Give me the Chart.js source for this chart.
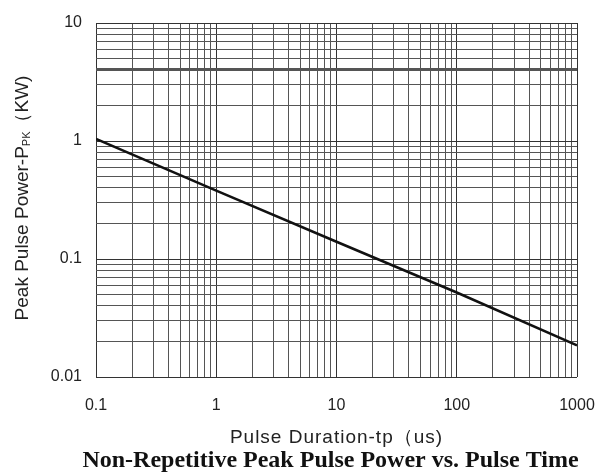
<!DOCTYPE html>
<html>
<head>
<meta charset="utf-8">
<script src="https://cdn.jsdelivr.net/npm/chart.js@4"></script>
<style>
  html, body { margin: 0; padding: 0; background: #fff; }
  #wrap { width: 605px; height: 476px; }
</style>
</head>
<body>
<div id="wrap"><canvas id="myChart" width="605" height="476"></canvas></div>
<script>
// pulse duration (us) vs peak pulse power (kW)
const durations = [0.1, 1, 10, 100, 1000]
const power = [1.04, 0.38, 0.14, 0.052, 0.0185]

const xTickLabels = [0.1, 1, 10, 100, 1000]
const yTickLabels = [0.01, 0.1, 1, 10]
const minorSteps = [1, 2, 3, 4, 5, 6, 7, 8, 9]

function gridValues(decades) {
  const out = []
  for (let i = 0; i < decades.length - 1; i++) {
    minorSteps.forEach(m => out.push(+(decades[i] * m).toPrecision(6)))
  }
  out.push(decades[decades.length - 1])
  return out
}
function isLabel(v, list) {
  return list.some(l => Math.abs(v - l) / l < 1e-6)
}

const textPlugin = {
  id: 'textPlugin',
  afterDraw(chart) {
    const c = chart.ctx
    const area = chart.chartArea
    const cx = (area.left + area.right) / 2
    c.save()
    c.fillStyle = '#222'
    c.textBaseline = 'middle'
    // x title
    c.font = '19px "Liberation Sans", Arial, sans-serif'
    c.letterSpacing = '1px'
    c.textAlign = 'center'
    c.fillText('Pulse Duration-tp（us)', cx, 438)
    c.letterSpacing = '0px'
    // main title
    c.font = 'bold 24px "Liberation Serif", "Times New Roman", serif'
    c.fillStyle = '#111'
    c.fillText('Non-Repetitive Peak Pulse Power vs. Pulse Time', cx - 6, 461)
    // y title with subscript
    c.fillStyle = '#222'
    c.translate(23, 198)
    c.rotate(-Math.PI / 2)
    const big = '19px "Liberation Sans", Arial, sans-serif'
    const small = '11px "Liberation Sans", Arial, sans-serif'
    const parts = [['Peak Pulse Power-P', big, 0], ['PK', small, 4], ['（KW)', big, 0]]
    let total = 0
    parts.forEach(p => { c.font = p[1]; total += c.measureText(p[0]).width })
    let x = -total / 2
    c.textAlign = 'left'
    parts.forEach(p => {
      c.font = p[1]
      c.fillText(p[0], x, p[2])
      x += c.measureText(p[0]).width
    })
    c.restore()
  }
}

const ctx = document.getElementById('myChart').getContext('2d')
new Chart(ctx, {
  type: 'line',
  data: {
    datasets: [{
      label: 'Ppk',
      data: durations.map((d, i) => ({ x: d, y: power[i] })),
      borderColor: '#111',
      borderWidth: 2.5,
      pointRadius: 0,
      fill: false,
      tension: 0
    }]
  },
  options: {
    responsive: false,
    animation: false,
    layout: { padding: { top: 23, right: 28, left: 0, bottom: 0 } },
    plugins: {
      legend: { display: false },
      tooltip: { enabled: false }
    },
    scales: {
      x: {
        type: 'logarithmic',
        min: 0.1,
        max: 1000,
        afterBuildTicks: s => { s.ticks = gridValues(xTickLabels).map(v => ({ value: v })) },
        afterFit: s => { s.height = 99; s.paddingLeft = 0; s.paddingRight = 0 },
        border: { display: false },
        grid: {
          drawTicks: false,
          color: c => isLabel(c.tick.value, xTickLabels) ? '#333' : '#555',
          lineWidth: 1
        },
        ticks: {
          autoSkip: false,
          maxRotation: 0,
          padding: 19,
          color: '#222',
          font: { family: '"Liberation Sans", Arial, sans-serif', size: 16 },
          callback: v => isLabel(v, xTickLabels) ? String(+v.toPrecision(6)) : ''
        }
      },
      y: {
        type: 'logarithmic',
        min: 0.01,
        max: 10,
        afterBuildTicks: s => { s.ticks = gridValues(yTickLabels).map(v => ({ value: v })) },
        afterFit: s => { s.width = 96; s.paddingTop = 0; s.paddingBottom = 0 },
        border: { display: false },
        grid: {
          drawTicks: false,
          color: c => isLabel(c.tick.value, yTickLabels) ? '#333' : '#555',
          lineWidth: c => Math.abs(c.tick.value - 4) < 1e-6 ? 3 : 1
        },
        ticks: {
          autoSkip: false,
          padding: 14,
          color: '#222',
          font: { family: '"Liberation Sans", Arial, sans-serif', size: 16 },
          callback: v => isLabel(v, yTickLabels) ? String(+v.toPrecision(6)) : ''
        }
      }
    }
  },
  plugins: [textPlugin]
})
</script>
</body>
</html>
